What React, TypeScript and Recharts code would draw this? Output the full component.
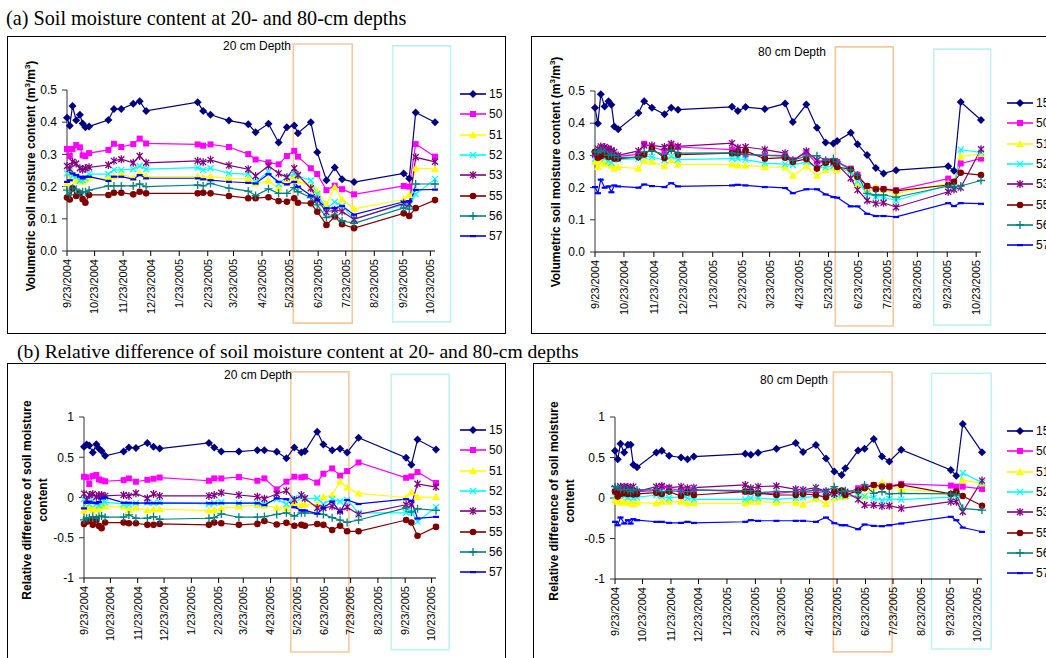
import React from "react";
import { LineChart, Line, XAxis, YAxis, Legend, ReferenceArea } from "recharts";

// sampling dates (shared by all four panels)
const SAMPLE_DATES = [
  "9/23/2004", "9/26/2004", "9/29/2004", "10/3/2004", "10/7/2004", "10/10/2004", "10/13/2004",
  "10/17/2004", "11/7/2004", "11/13/2004", "11/21/2004", "12/4/2004", "12/11/2004", "12/18/2004",
  "2/12/2005", "2/18/2005", "2/26/2005", "3/18/2005", "4/8/2005", "4/16/2005", "4/30/2005",
  "5/11/2005", "5/20/2005", "5/28/2005", "6/1/2005", "6/15/2005", "6/22/2005", "7/2/2005",
  "7/11/2005", "7/19/2005", "8/1/2005", "9/24/2005", "9/30/2005", "10/7/2005", "10/28/2005",
];

const TICK_DATES = [
  "9/23/2004", "10/23/2004", "11/23/2004", "12/23/2004", "1/23/2005", "2/23/2005", "3/23/2005",
  "4/23/2005", "5/23/2005", "6/23/2005", "7/23/2005", "8/23/2005", "9/23/2005", "10/23/2005",
];

const SITES = ["15", "50", "51", "52", "53", "55", "56", "57"];

// (a) volumetric soil moisture, 20 cm
const vwc20_15 = [0.414, 0.389, 0.45, 0.406, 0.423, 0.396, 0.384, 0.387, 0.407, 0.441, 0.441, 0.457, 0.465, 0.435, 0.462, 0.435, 0.423, 0.405, 0.394, 0.369, 0.395, 0.337, 0.384, 0.39, 0.366, 0.4, 0.307, 0.22, 0.259, 0.223, 0.214, 0.241, 0.225, 0.43, 0.4];
const vwc20_50 = [0.317, 0.295, 0.317, 0.329, 0.322, 0.297, 0.295, 0.304, 0.314, 0.333, 0.323, 0.332, 0.349, 0.334, 0.331, 0.327, 0.331, 0.323, 0.301, 0.284, 0.275, 0.269, 0.295, 0.311, 0.293, 0.257, 0.239, 0.189, 0.203, 0.192, 0.176, 0.202, 0.2, 0.332, 0.293];
const vwc20_51 = [0.21, 0.225, 0.243, 0.218, 0.22, 0.215, 0.222, 0.228, 0.225, 0.231, 0.239, 0.227, 0.243, 0.231, 0.231, 0.228, 0.231, 0.225, 0.224, 0.21, 0.218, 0.195, 0.223, 0.231, 0.218, 0.2, 0.186, 0.145, 0.198, 0.16, 0.131, 0.16, 0.174, 0.257, 0.255];
const vwc20_52 = [0.241, 0.25, 0.234, 0.231, 0.218, 0.22, 0.226, 0.239, 0.239, 0.252, 0.252, 0.254, 0.264, 0.254, 0.259, 0.252, 0.257, 0.241, 0.239, 0.215, 0.246, 0.208, 0.231, 0.239, 0.233, 0.219, 0.177, 0.131, 0.152, 0.14, 0.1, 0.145, 0.141, 0.176, 0.224];
const vwc20_53 = [0.264, 0.255, 0.277, 0.272, 0.257, 0.252, 0.257, 0.26, 0.267, 0.28, 0.285, 0.274, 0.295, 0.274, 0.28, 0.276, 0.283, 0.266, 0.254, 0.233, 0.265, 0.241, 0.229, 0.257, 0.236, 0.195, 0.16, 0.12, 0.128, 0.123, 0.098, 0.148, 0.146, 0.291, 0.277];
const vwc20_55 = [0.166, 0.16, 0.195, 0.171, 0.179, 0.161, 0.15, 0.174, 0.174, 0.181, 0.181, 0.176, 0.184, 0.179, 0.179, 0.181, 0.179, 0.171, 0.164, 0.164, 0.167, 0.155, 0.153, 0.164, 0.15, 0.148, 0.122, 0.081, 0.107, 0.083, 0.071, 0.117, 0.109, 0.133, 0.158];
const vwc20_56 = [0.189, 0.174, 0.195, 0.192, 0.179, 0.184, 0.184, 0.189, 0.202, 0.202, 0.202, 0.202, 0.208, 0.2, 0.205, 0.202, 0.21, 0.195, 0.186, 0.172, 0.193, 0.179, 0.179, 0.197, 0.184, 0.166, 0.143, 0.104, 0.112, 0.094, 0.086, 0.134, 0.13, 0.208, 0.208];
const vwc20_57 = [0.215, 0.22, 0.241, 0.236, 0.231, 0.226, 0.231, 0.231, 0.218, 0.231, 0.231, 0.223, 0.236, 0.226, 0.226, 0.223, 0.22, 0.215, 0.212, 0.21, 0.239, 0.215, 0.207, 0.215, 0.2, 0.172, 0.159, 0.133, 0.133, 0.14, 0.113, 0.153, 0.155, 0.19, 0.191];

// (a) volumetric soil moisture, 80 cm
const vwc80_15 = [0.448, 0.399, 0.49, 0.452, 0.468, 0.457, 0.39, 0.381, 0.432, 0.468, 0.448, 0.428, 0.448, 0.442, 0.451, 0.438, 0.45, 0.444, 0.461, 0.404, 0.458, 0.386, 0.34, 0.337, 0.345, 0.37, 0.335, 0.301, 0.261, 0.244, 0.254, 0.266, 0.252, 0.466, 0.41];
const vwc80_50 = [0.3, 0.31, 0.316, 0.314, 0.321, 0.31, 0.303, 0.297, 0.303, 0.336, 0.326, 0.314, 0.331, 0.326, 0.318, 0.314, 0.303, 0.3, 0.3, 0.285, 0.309, 0.274, 0.283, 0.283, 0.28, 0.259, 0.24, 0.204, 0.196, 0.196, 0.192, 0.228, 0.217, 0.275, 0.29];
const vwc80_51 = [0.28, 0.264, 0.28, 0.274, 0.276, 0.269, 0.259, 0.264, 0.259, 0.283, 0.28, 0.266, 0.285, 0.272, 0.272, 0.269, 0.269, 0.264, 0.263, 0.237, 0.266, 0.237, 0.254, 0.262, 0.255, 0.255, 0.207, 0.193, 0.203, 0.193, 0.182, 0.213, 0.213, 0.297, 0.304];
const vwc80_52 = [0.29, 0.295, 0.297, 0.29, 0.283, 0.277, 0.287, 0.287, 0.29, 0.297, 0.295, 0.285, 0.297, 0.287, 0.29, 0.29, 0.287, 0.276, 0.273, 0.27, 0.28, 0.263, 0.263, 0.267, 0.263, 0.25, 0.219, 0.182, 0.172, 0.17, 0.16, 0.208, 0.203, 0.318, 0.309];
const vwc80_53 = [0.305, 0.321, 0.328, 0.326, 0.321, 0.316, 0.311, 0.3, 0.314, 0.331, 0.331, 0.326, 0.336, 0.328, 0.338, 0.324, 0.326, 0.318, 0.307, 0.283, 0.313, 0.284, 0.28, 0.278, 0.272, 0.229, 0.193, 0.16, 0.151, 0.153, 0.139, 0.187, 0.194, 0.2, 0.319];
const vwc80_55 = [0.311, 0.293, 0.297, 0.303, 0.295, 0.297, 0.29, 0.29, 0.295, 0.303, 0.321, 0.292, 0.321, 0.302, 0.307, 0.307, 0.314, 0.29, 0.293, 0.28, 0.289, 0.259, 0.277, 0.282, 0.264, 0.257, 0.234, 0.205, 0.195, 0.195, 0.19, 0.208, 0.218, 0.246, 0.239];
const vwc80_56 = [0.311, 0.311, 0.316, 0.311, 0.3, 0.303, 0.3, 0.293, 0.295, 0.311, 0.314, 0.303, 0.316, 0.307, 0.308, 0.305, 0.303, 0.3, 0.298, 0.285, 0.298, 0.299, 0.285, 0.29, 0.28, 0.255, 0.239, 0.182, 0.177, 0.177, 0.17, 0.205, 0.203, 0.205, 0.222];
const vwc80_57 = [0.202, 0.183, 0.225, 0.2, 0.204, 0.186, 0.207, 0.204, 0.2, 0.21, 0.205, 0.202, 0.214, 0.204, 0.207, 0.209, 0.207, 0.202, 0.199, 0.183, 0.195, 0.195, 0.179, 0.171, 0.169, 0.142, 0.142, 0.119, 0.112, 0.112, 0.109, 0.152, 0.143, 0.152, 0.15];

// (b) relative difference, 20 cm
const rd20_15 = [0.629, 0.658, 0.645, 0.559, 0.662, 0.608, 0.579, 0.518, 0.571, 0.621, 0.616, 0.678, 0.629, 0.608, 0.678, 0.621, 0.571, 0.571, 0.588, 0.588, 0.567, 0.487, 0.621, 0.559, 0.573, 0.818, 0.658, 0.588, 0.606, 0.559, 0.742, 0.493, 0.406, 0.72, 0.596];
const rd20_50 = [0.258, 0.25, 0.167, 0.266, 0.28, 0.225, 0.212, 0.202, 0.216, 0.237, 0.196, 0.22, 0.233, 0.248, 0.208, 0.237, 0.237, 0.254, 0.208, 0.237, 0.101, 0.196, 0.258, 0.25, 0.258, 0.186, 0.295, 0.361, 0.272, 0.328, 0.435, 0.245, 0.262, 0.316, 0.18];
const rd20_51 = [-0.163, -0.113, -0.13, -0.155, -0.134, -0.15, -0.093, -0.113, -0.113, -0.155, -0.126, -0.163, -0.146, -0.146, -0.163, -0.155, -0.134, -0.113, -0.093, -0.1, -0.126, -0.134, -0.064, -0.093, -0.084, -0.09, 0.005, 0.031, 0.2, 0.123, 0.051, 0, 0.065, 0.005, 0.005];
const rd20_52 = [-0.02, -0.06, -0.08, -0.04, -0.08, -0.1, -0.07, -0.06, -0.08, -0.09, -0.07, -0.06, -0.07, -0.06, -0.08, -0.07, -0.06, -0.07, -0.07, -0.08, -0.02, -0.08, -0.01, 0, -0.01, -0.01, -0.08, -0.02, -0.05, -0.03, -0.19, -0.19, -0.18, -0.3, -0.12];
const rd20_53 = [0.048, -0.03, 0.031, 0.043, 0.01, 0.03, 0.031, 0.02, 0.031, 0.02, 0.052, -0.01, 0.043, 0.02, 0.02, 0.03, 0.06, 0.031, 0.01, -0.015, 0.043, 0.085, -0.03, 0.03, -0.01, -0.13, -0.13, -0.11, -0.17, -0.12, -0.21, -0.09, -0.09, 0.17, 0.13];
const rd20_55 = [-0.328, -0.3, -0.287, -0.34, -0.278, -0.353, -0.381, -0.311, -0.311, -0.32, -0.32, -0.34, -0.34, -0.328, -0.34, -0.311, -0.32, -0.34, -0.328, -0.291, -0.335, -0.315, -0.35, -0.34, -0.35, -0.33, -0.34, -0.405, -0.35, -0.42, -0.42, -0.28, -0.31, -0.475, -0.365];
const rd20_56 = [-0.278, -0.258, -0.25, -0.237, -0.258, -0.237, -0.229, -0.245, -0.245, -0.216, -0.258, -0.258, -0.237, -0.27, -0.258, -0.25, -0.204, -0.245, -0.245, -0.237, -0.21, -0.19, -0.23, -0.19, -0.19, -0.2, -0.21, -0.25, -0.28, -0.31, -0.28, -0.13, -0.18, -0.14, -0.16];
const rd20_57 = [-0.134, -0.064, -0.05, -0.064, -0.07, -0.055, -0.01, 0.002, -0.064, -0.064, -0.07, -0.07, -0.07, -0.07, -0.07, -0.07, -0.07, -0.07, -0.07, -0.093, -0.01, -0.02, -0.12, -0.16, -0.16, -0.2, -0.13, -0.05, -0.18, -0.03, -0.08, -0.02, -0.04, -0.26, -0.24];

// (b) relative difference, 80 cm
const rd80_15 = [0.583, 0.479, 0.669, 0.562, 0.657, 0.657, 0.409, 0.38, 0.562, 0.583, 0.521, 0.5, 0.479, 0.512, 0.545, 0.533, 0.558, 0.607, 0.678, 0.568, 0.655, 0.488, 0.326, 0.285, 0.368, 0.585, 0.607, 0.727, 0.512, 0.45, 0.595, 0.347, 0.275, 0.915, 0.566];
const rd80_50 = [0.079, 0.08, 0.1, 0.1, 0.1, 0.1, 0.09, 0.079, 0.09, 0.14, 0.12, 0.09, 0.107, 0.1, 0.079, 0.079, 0.058, 0.058, 0.079, 0.079, 0.066, 0.079, 0.058, 0.066, 0.058, 0.12, 0.14, 0.16, 0.153, 0.149, 0.174, 0.153, 0.14, 0.14, 0.112];
const rd80_51 = [-0.025, -0.045, -0.058, -0.045, -0.058, -0.066, -0.074, -0.058, -0.066, -0.045, -0.045, -0.045, -0.066, -0.066, -0.066, -0.045, -0.045, -0.058, -0.058, -0.079, -0.012, -0.074, -0.004, 0.008, 0.017, 0.03, 0.02, 0.14, 0.19, 0.16, 0.11, 0.06, 0.05, 0.22, 0.18];
const rd80_52 = [0.025, 0.058, 0.037, 0.025, 0.008, 0.017, 0, 0.008, 0.037, 0.017, 0, 0.017, 0, -0.017, -0.017, 0, 0, -0.017, 0, 0.008, 0.017, 0.05, 0.017, 0.03, 0.025, 0.03, 0.02, 0, -0.03, -0.01, -0.02, 0.01, 0.04, 0.31, 0.19];
const rd80_53 = [0.12, 0.079, 0.14, 0.14, 0.14, 0.12, 0.14, 0.079, 0.14, 0.149, 0.128, 0.14, 0.12, 0.128, 0.161, 0.12, 0.14, 0.149, 0.107, 0.1, 0.128, 0.079, 0.05, 0.079, 0.079, -0.017, -0.087, -0.087, -0.1, -0.095, -0.128, -0.045, -0.045, -0.169, 0.215];
const rd80_55 = [0.079, 0.017, 0.05, 0.058, 0.05, 0.058, 0.045, 0.05, 0.066, 0.05, 0.079, 0.025, 0.066, 0.037, 0.079, 0.079, 0.058, 0.037, 0.037, 0.05, 0.037, 0.008, 0.079, 0.091, 0.037, 0.091, 0.12, 0.161, 0.14, 0.14, 0.161, 0.05, 0.079, 0.025, -0.095];
const rd80_56 = [0.14, 0.14, 0.107, 0.107, 0.1, 0.079, 0.1, 0.1, 0.1, 0.079, 0.091, 0.079, 0.079, 0.1, 0.091, 0.091, 0.066, 0.079, 0.079, 0.079, 0.1, 0.079, 0.14, 0.079, 0.091, 0.079, 0.161, 0.058, 0.079, 0.05, 0.058, 0.05, 0.037, -0.128, -0.149];
const rd80_57 = [-0.293, -0.335, -0.24, -0.314, -0.273, -0.314, -0.26, -0.273, -0.293, -0.293, -0.306, -0.306, -0.293, -0.306, -0.293, -0.273, -0.281, -0.281, -0.281, -0.281, -0.293, -0.24, -0.31, -0.335, -0.335, -0.384, -0.326, -0.343, -0.347, -0.335, -0.314, -0.231, -0.273, -0.364, -0.417];

const SANS = "'Liberation Sans', Arial, sans-serif";
const SERIF = "'Liberation Serif', 'Times New Roman', serif";
const ORANGE = "#f8c89c";
const CYAN = "#bff3f3";

const STYLE: Record<string, { color: string; marker: string }> = {
  "15": { color: "#000080", marker: "diamond" },
  "50": { color: "#ff00ff", marker: "square" },
  "51": { color: "#ffff00", marker: "triangle" },
  "52": { color: "#00ffff", marker: "x" },
  "53": { color: "#800080", marker: "star" },
  "55": { color: "#800000", marker: "circle" },
  "56": { color: "#008080", marker: "plus" },
  "57": { color: "#0000ff", marker: "dash" },
};

const dayOf = (s: string) => {
  const [m, d, y] = s.split("/").map(Number);
  return Math.round((Date.UTC(y, m - 1, d) - Date.UTC(2004, 8, 23)) / 86400000);
};
const TICK_DAYS = TICK_DATES.map(dayOf);
const END_DAY = dayOf(SAMPLE_DATES[SAMPLE_DATES.length - 1]);

function Marker({ shape, x, y, color }: { shape: string; x: number; y: number; color: string }) {
  switch (shape) {
    case "diamond":
      return <polygon points={`${x},${y - 4} ${x + 4},${y} ${x},${y + 4} ${x - 4},${y}`} fill={color} />;
    case "square":
      return <rect x={x - 3} y={y - 3} width={6} height={6} fill={color} />;
    case "triangle":
      return <polygon points={`${x},${y - 4} ${x + 4},${y + 3} ${x - 4},${y + 3}`} fill={color} />;
    case "x":
      return <path d={`M${x - 3},${y - 3}L${x + 3},${y + 3}M${x - 3},${y + 3}L${x + 3},${y - 3}`} stroke={color} strokeWidth={1.3} />;
    case "star":
      return (
        <path
          d={`M${x - 3},${y - 3}L${x + 3},${y + 3}M${x - 3},${y + 3}L${x + 3},${y - 3}M${x},${y - 4}L${x},${y + 4}`}
          stroke={color}
          strokeWidth={1.3}
        />
      );
    case "circle":
      return <circle cx={x} cy={y} r={3.3} fill={color} />;
    case "plus":
      return <path d={`M${x - 4},${y}L${x + 4},${y}M${x},${y - 4}L${x},${y + 4}`} stroke={color} strokeWidth={1.3} />;
    default:
      return <rect x={x - 3} y={y - 1} width={6} height={2.2} fill={color} />;
  }
}

const makeDot = (site: string) => (p: any) => {
  if (p.cx == null || p.cy == null || p.value == null) return <g key={`${site}-${p.index}`} />;
  return (
    <g key={`${site}-${p.index}`}>
      <Marker shape={STYLE[site].marker} x={p.cx} y={p.cy} color={STYLE[site].color} />
    </g>
  );
};

const DateTick = (p: any) => {
  const i = TICK_DAYS.indexOf(p.payload.value);
  return (
    <text
      x={p.x}
      y={p.y}
      dx={-1}
      dy="0.35em"
      transform={`rotate(-90, ${p.x}, ${p.y})`}
      textAnchor="end"
      fontSize={11}
      fontFamily={SANS}
      fill="#000"
    >
      {i >= 0 ? TICK_DATES[i] : ""}
    </text>
  );
};

const renderLegend = (props: any) => (
  <div style={{ fontFamily: SANS, fontSize: 12, color: "#000" }}>
    {(props.payload || []).map((item: any) => {
      const st = STYLE[item.value];
      return (
        <div key={item.value} style={{ display: "flex", alignItems: "center", height: 20.3 }}>
          <svg width={26} height={10} style={{ overflow: "visible" }}>
            <line x1={0} y1={5} x2={26} y2={5} stroke={st.color} strokeWidth={1.6} />
            <Marker shape={st.marker} x={13} y={5} color={st.color} />
          </svg>
          <span style={{ marginLeft: 3 }}>{item.value}</span>
        </div>
      );
    })}
  </div>
);

type Box = { x1: number; x2: number; y1: number; y2: number; color: string };

type PanelCfg = {
  left: number;
  top: number;
  boxW: number;
  boxH: number;
  chartW: number;
  chartH: number;
  plotL: number;
  plotR: number;
  plotT: number;
  plotB: number;
  yDomain: [number, number];
  yTicks: number[];
  fmt: (v: number) => string;
  legendX: number;
  legendY: number;
  title: string;
  titleX: number;
  titleY: number;
  labelX: number;
  labelY: number;
  label: React.ReactNode;
  boxes: Box[];
};

function Panel({ cfg, series }: { cfg: PanelCfg; series: number[][] }) {
  const data = SAMPLE_DATES.map((d, i) => {
    const row: Record<string, number> = { day: dayOf(d) };
    SITES.forEach((s, k) => {
      row["s" + s] = series[k][i];
    });
    return row;
  });

  return (
    <div style={{ position: "absolute", left: cfg.left, top: cfg.top, width: cfg.boxW, height: cfg.boxH }}>
      <div style={{ position: "absolute", left: 0, top: 0 }}>
        <LineChart
          width={cfg.chartW}
          height={cfg.chartH}
          data={data}
          margin={{ top: cfg.plotT, right: cfg.chartW - cfg.plotR, left: 0, bottom: 0 }}
        >
          <XAxis
            dataKey="day"
            type="number"
            domain={[0, END_DAY]}
            ticks={TICK_DAYS}
            interval={0}
            height={cfg.chartH - cfg.plotB}
            tick={(p: any) => <DateTick {...p} />}
            tickSize={5}
            tickMargin={2}
            stroke="#000"
          />
          <YAxis
            type="number"
            domain={cfg.yDomain}
            ticks={cfg.yTicks}
            interval={0}
            width={cfg.plotL}
            tickSize={5}
            tickMargin={5}
            tickFormatter={cfg.fmt}
            tick={{ fontSize: 12, fill: "#000", fontFamily: SANS }}
            stroke="#333"
          />
          {cfg.boxes.map((b, i) => (
            <ReferenceArea
              key={i}
              x1={b.x1}
              x2={b.x2}
              y1={b.y1}
              y2={b.y2}
              fill="none"
              fillOpacity={0}
              stroke={b.color}
              strokeWidth={1.6}
              ifOverflow="visible"
            />
          ))}
          {SITES.map((s) => (
            <Line
              key={s}
              dataKey={"s" + s}
              name={s}
              type="linear"
              stroke={STYLE[s].color}
              strokeWidth={1.2}
              dot={makeDot(s)}
              activeDot={false}
              isAnimationActive={false}
            />
          ))}
          <Legend
            layout="vertical"
            align="center"
            verticalAlign="middle"
            content={renderLegend}
            wrapperStyle={{ left: cfg.legendX, top: cfg.legendY, width: 60 }}
          />
        </LineChart>
      </div>
      <div
        style={{
          position: "absolute",
          left: 0,
          top: 0,
          width: cfg.boxW,
          height: cfg.boxH,
          border: "1px solid #000",
          boxSizing: "border-box",
          pointerEvents: "none",
        }}
      />
      <div
        style={{
          position: "absolute",
          left: cfg.titleX,
          top: cfg.titleY,
          transform: "translate(-50%, -50%)",
          fontFamily: SANS,
          fontSize: 12,
          whiteSpace: "nowrap",
        }}
      >
        {cfg.title}
      </div>
      <div
        style={{
          position: "absolute",
          left: cfg.labelX,
          top: cfg.labelY,
          transform: "translate(-50%, -50%) rotate(-90deg)",
          fontFamily: SANS,
          fontSize: 12,
          fontWeight: "bold",
          whiteSpace: "nowrap",
          textAlign: "center",
          lineHeight: "16px",
        }}
      >
        {cfg.label}
      </div>
    </div>
  );
}

const vwcLabel = (
  <span>
    Volumetric soil moisture content (m<sup style={{ fontSize: 8 }}>3</sup>/m<sup style={{ fontSize: 8 }}>3</sup>)
  </span>
);
const rdLabel = (
  <span>
    Relative difference of soil moisture
    <br />
    content
  </span>
);

const fmtA = (v: number) => v.toFixed(1);
const fmtB = (v: number) => String(v);

const PANEL_A20: PanelCfg = {
  left: 7, top: 36, boxW: 499, boxH: 298, chartW: 499, chartH: 298,
  plotL: 60, plotR: 428, plotT: 54, plotB: 215,
  yDomain: [0, 0.5], yTicks: [0, 0.1, 0.2, 0.3, 0.4, 0.5], fmt: fmtA,
  legendX: 453, legendY: 48, title: "20 cm Depth", titleX: 250, titleY: 10,
  labelX: 22, labelY: 140, label: vwcLabel,
  boxes: [
    { x1: 246, x2: 310, y1: -0.224, y2: 0.643, color: ORANGE },
    { x1: 354, x2: 417, y1: -0.22, y2: 0.637, color: CYAN },
  ],
};

const PANEL_A80: PanelCfg = {
  left: 531, top: 36, boxW: 560, boxH: 298, chartW: 560, chartH: 298,
  plotL: 64, plotR: 450, plotT: 55, plotB: 216,
  yDomain: [0, 0.5], yTicks: [0, 0.1, 0.2, 0.3, 0.4, 0.5], fmt: fmtA,
  legendX: 476, legendY: 57, title: "80 cm Depth", titleX: 261, titleY: 16,
  labelX: 23, labelY: 136, label: vwcLabel,
  boxes: [
    { x1: 249, x2: 309, y1: -0.23, y2: 0.637, color: ORANGE },
    { x1: 351, x2: 410, y1: -0.227, y2: 0.63, color: CYAN },
  ],
};

const PANEL_B20: PanelCfg = {
  left: 7, top: 363, boxW: 499, boxH: 320, chartW: 499, chartH: 300,
  plotL: 77, plotR: 429, plotT: 54, plotB: 215,
  yDomain: [-1, 1], yTicks: [-1, -0.5, 0, 0.5, 1], fmt: fmtB,
  legendX: 453, legendY: 57, title: "20 cm Depth", titleX: 251, titleY: 12,
  labelX: 28, labelY: 137, label: rdLabel,
  boxes: [
    { x1: 235, x2: 301, y1: -1.92, y2: 1.56, color: ORANGE },
    { x1: 349, x2: 415, y1: -1.89, y2: 1.53, color: CYAN },
  ],
};

const PANEL_B80: PanelCfg = {
  left: 533, top: 363, boxW: 560, boxH: 320, chartW: 560, chartH: 300,
  plotL: 82, plotR: 449, plotT: 54, plotB: 216,
  yDomain: [-1, 1], yTicks: [-1, -0.5, 0, 0.5, 1], fmt: fmtB,
  legendX: 474, legendY: 58, title: "80 cm Depth", titleX: 261, titleY: 17,
  labelX: 29, labelY: 138, label: rdLabel,
  boxes: [
    { x1: 238, x2: 302, y1: -1.9, y2: 1.556, color: ORANGE },
    { x1: 345, x2: 410, y1: -1.864, y2: 1.54, color: CYAN },
  ],
};

export default function App() {
  return (
    <div
      style={{
        position: "fixed",
        left: 0,
        top: 0,
        width: 1046,
        height: 658,
        overflow: "hidden",
        background: "#fff",
      }}
    >
      <div style={{ position: "absolute", left: 6, top: 18, transform: "translateY(-50%)", fontFamily: SERIF, fontSize: 20.2, whiteSpace: "nowrap" }}>
        (a) Soil moisture content at 20- and 80-cm depths
      </div>
      <div style={{ position: "absolute", left: 17, top: 352, transform: "translateY(-50%)", fontFamily: SERIF, fontSize: 19.6, whiteSpace: "nowrap" }}>
        (b) Relative difference of soil moisture content at 20- and 80-cm depths
      </div>
      <Panel cfg={PANEL_A20} series={[vwc20_15, vwc20_50, vwc20_51, vwc20_52, vwc20_53, vwc20_55, vwc20_56, vwc20_57]} />
      <Panel cfg={PANEL_A80} series={[vwc80_15, vwc80_50, vwc80_51, vwc80_52, vwc80_53, vwc80_55, vwc80_56, vwc80_57]} />
      <Panel cfg={PANEL_B20} series={[rd20_15, rd20_50, rd20_51, rd20_52, rd20_53, rd20_55, rd20_56, rd20_57]} />
      <Panel cfg={PANEL_B80} series={[rd80_15, rd80_50, rd80_51, rd80_52, rd80_53, rd80_55, rd80_56, rd80_57]} />
    </div>
  );
}
